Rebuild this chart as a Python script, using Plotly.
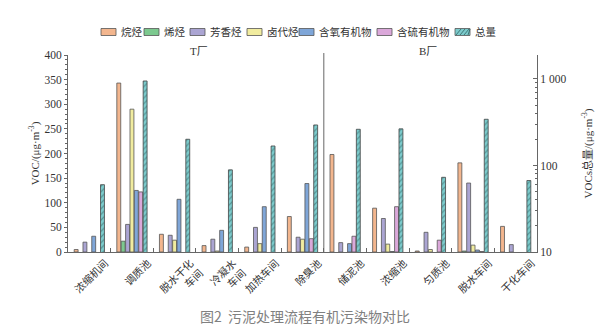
import plotly.graph_objects as go

categories = ["浓缩机间", "调质池", "脱水干化<br>车间", "冷凝水<br>车间", "加热车间", "除臭池",
              "储泥池", "浓缩池", "匀质池", "脱水车间", "干化车间"]
alkanes = [5, 343, 36, 13, 10, 72, 198, 89, 2, 181, 52]
alkenes = [None, 22, None, None, None, None, None, None, None, 2, None]
aromatics = [20, 56, 34, 26, 50, 30, 19, 68, 40, 140, 15]
halo = [None, 290, 24, 2, 17, 26, None, 16, 5, 14, None]
oxygenated = [32, 125, 107, 44, 92, 139, 17, 1, None, 4, None]
sulfur = [None, 122, None, None, None, 27, 32, 92, 24, 1, None]
total = [60, 948, 201, 89, 168, 294, 262, 265, 73, 342, 67]

series = [
    ("烷烃", alkanes, "#F3B68E"),
    ("烯烃", alkenes, "#7CC98F"),
    ("芳香烃", aromatics, "#ABA5D3"),
    ("卤代烃", halo, "#F1EC9F"),
    ("含氧有机物", oxygenated, "#7FA6D8"),
    ("含硫有机物", sulfur, "#DBA8DA"),
]
TOTAL_NAME, TOTAL_COLOR, HATCH = "总量", "#7CCBCC", "#2F5F60"

SERIF = "Liberation Serif, Noto Sans CJK SC"
# plot area in pixels (for placing legend in paper coords)
L, R, T, B = 68, 537, 55, 252
W, H = R - L, B - T
px = lambda x: (x - L) / W
py = lambda y: (B - y) / H

slot = 0.103
bw = 0.092
fig = go.Figure()
for i, (name, vals, col) in enumerate(series):
    fig.add_trace(go.Bar(
        x=categories, y=vals, name=name, width=bw, offset=(i - 3) * slot - bw / 2,
        marker=dict(color=col, line=dict(color="#555555", width=0.8)), showlegend=False,
    ))
fig.add_trace(go.Bar(
    x=categories, y=total, name=TOTAL_NAME, width=bw, offset=3 * slot - bw / 2, yaxis="y2",
    marker=dict(color=TOTAL_COLOR, line=dict(color="#444444", width=0.8),
                pattern=dict(shape="/", fgcolor=HATCH, bgcolor=TOTAL_COLOR, size=4, solidity=0.3)),
    showlegend=False,
))

shapes = [dict(type="line", xref="x", yref="paper", x0=5.5, x1=5.5, y0=0, y1=1.01,
               line=dict(color="#666666", width=1))]
annotations = []

# manual legend (single row, compact like the reference)
legend_x = [101, 144, 190, 247, 299, 377, 455]
legend_items = [(n, c) for n, _, c in series] + [(TOTAL_NAME, TOTAL_COLOR)]
ly, sw, sh = 32, 15, 7
for (name, col), x0 in zip(legend_items, legend_x):
    shapes.append(dict(type="rect", xref="paper", yref="paper",
                       x0=px(x0), x1=px(x0 + sw), y0=py(ly + sh / 2), y1=py(ly - sh / 2),
                       fillcolor=col, line=dict(color="#555555", width=0.8)))
    if name == TOTAL_NAME:
        for k in range(4):
            a = x0 + 1 + k * 4
            shapes.append(dict(type="line", xref="paper", yref="paper",
                               x0=px(a), x1=px(min(a + 5, x0 + sw)),
                               y0=py(ly + sh / 2 - 0.5), y1=py(ly - sh / 2 + 0.5),
                               line=dict(color=HATCH, width=0.8)))
    annotations.append(dict(text=name, xref="paper", yref="paper", x=px(x0 + sw + 3), y=py(ly),
                            xanchor="left", yanchor="middle", showarrow=False,
                            font=dict(size=10.5, family=SERIF, color="#333333")))

annotations += [
    dict(text="T厂", xref="paper", yref="paper", x=px(199), y=py(51), showarrow=False,
         xanchor="center", yanchor="middle", font=dict(size=11, family=SERIF)),
    dict(text="B厂", xref="paper", yref="paper", x=px(428), y=py(51), showarrow=False,
         xanchor="center", yanchor="middle", font=dict(size=11, family=SERIF)),
    dict(text="图2  污泥处理流程有机污染物对比", xref="paper", yref="paper", x=px(305), y=py(316),
         xanchor="center", yanchor="middle", showarrow=False,
         font=dict(size=14, family="Noto Sans CJK SC", color="#808080")),
]

fig.update_layout(
    width=615, height=333,
    margin=dict(l=L, r=615 - R, t=T, b=333 - B, autoexpand=False),
    paper_bgcolor="white", plot_bgcolor="white",
    barmode="overlay", showlegend=False,
    font=dict(family=SERIF, size=11, color="#333333"),
    xaxis=dict(tickangle=-45, showline=True, linecolor="#666666", ticks="inside",
               tickson="boundaries", ticklen=4, tickcolor="#666666", ticklabelshift=16,
               tickfont=dict(size=10.5, family=SERIF), range=[-0.5, 10.5]),
    yaxis=dict(range=[0, 400], dtick=50, showline=True, linecolor="#666666", ticks="outside",
               ticklen=3, tickcolor="#666666", showgrid=False, zeroline=False,
               minor=dict(dtick=10, ticks="outside", ticklen=2, tickcolor="#666666"),
               title=dict(text="VOC/(μg·m<sup>-3</sup>)", font=dict(size=11), standoff=2),
               tickfont=dict(size=11.5)),
    yaxis2=dict(type="log", overlaying="y", side="right", range=[1, 3.277],
                tickvals=[10, 100, 1000], ticktext=["10", "100", "1 000"],
                showline=True, linecolor="#666666", ticks="inside", ticklen=4,
                tickcolor="#666666", showgrid=False, zeroline=False,
                minor=dict(ticks="inside", ticklen=2, tickcolor="#666666", dtick="D1"),
                title=dict(text="VOCs总量/(μg·m<sup>-3</sup>)", font=dict(size=11), standoff=18),
                tickfont=dict(size=11.5)),
    shapes=shapes,
    annotations=annotations,
)

fig.write_html("out.html")
